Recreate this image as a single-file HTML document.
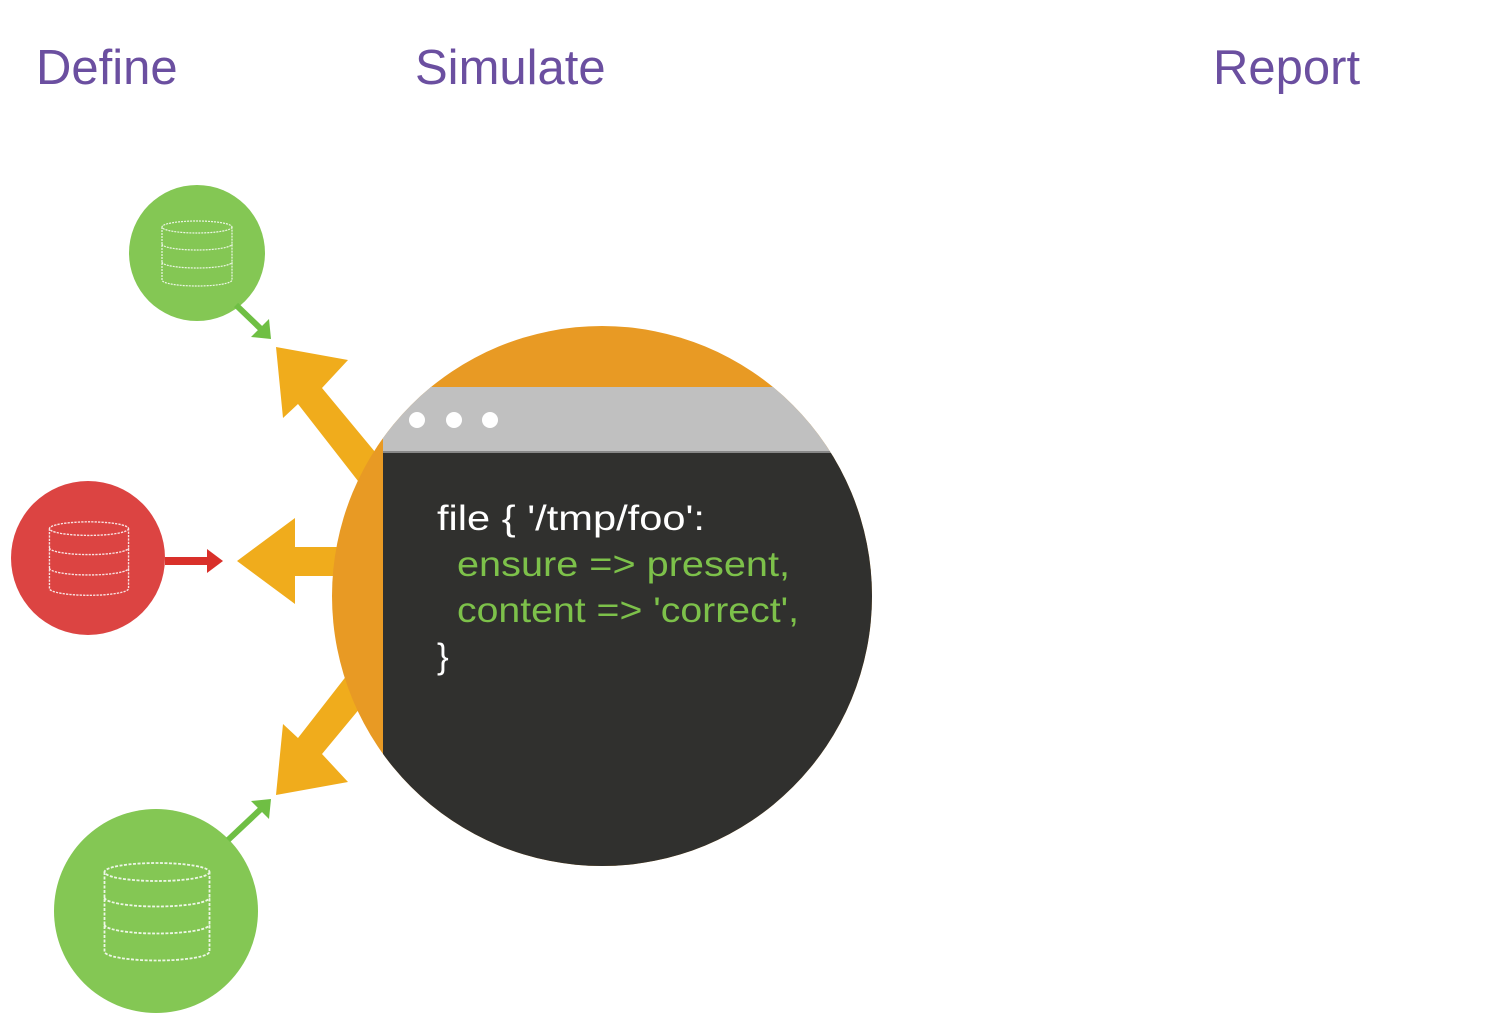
<!DOCTYPE html>
<html><head><style>
body{margin:0;background:#fff;width:1508px;height:1036px;overflow:hidden;font-family:"Liberation Sans",sans-serif}
.t{position:absolute;top:40px;font-size:49px;color:#6B4FA0}
</style></head><body>
<div class="t" style="left:36px">Define</div>
<div class="t" style="left:415px">Simulate</div>
<div class="t" style="left:1213px">Report</div>
<svg width="1508" height="1036" style="position:absolute;left:0;top:0">
<defs>
<clipPath id="c"><circle cx="602" cy="596" r="270"/></clipPath>
<g id="db" fill="none" stroke="#fff" stroke-width="1.2" stroke-dasharray="2 1" opacity="0.85">
<ellipse cx="0" cy="-26" rx="35" ry="6"/>
<path d="M-35,-26 V27 A35,6 0 0 0 35,27 V-26 M-35,-9 A35,6 0 0 0 35,-9 M-35,9 A35,6 0 0 0 35,9"/>
</g>
</defs>
<g fill="#F0AC1C">
<polygon points="276,347 348,360 322,388 390,470 365,490 298,404 283,418"/>
<polygon points="237,561 295,518 295,547 345,547 345,576 295,576 295,604"/>
<polygon points="276,795 348,782 322,754 390,672 365,652 298,738 283,724"/>
</g>
<circle cx="602" cy="596" r="270" fill="#E89A24"/>
<g clip-path="url(#c)">
<rect x="383" y="387" width="500" height="66" fill="#C0C0C0"/>
<rect x="383" y="451" width="500" height="2" fill="#888"/>
<rect x="383" y="453" width="500" height="420" fill="#30302E"/>
</g>
<circle cx="417" cy="420" r="8" fill="#fff"/>
<circle cx="454" cy="420" r="8" fill="#fff"/>
<circle cx="490" cy="420" r="8" fill="#fff"/>
<g font-family="Liberation Sans, sans-serif" font-size="35" fill="#fff">
<text x="437" y="530" textLength="268" lengthAdjust="spacingAndGlyphs">file { '/tmp/foo':</text>
<text x="457" y="576" fill="#7DC14A" textLength="333" lengthAdjust="spacingAndGlyphs">ensure  =&gt; present,</text>
<text x="457" y="622" fill="#7DC14A" textLength="342" lengthAdjust="spacingAndGlyphs">content =&gt; 'correct',</text>
<text x="437" y="668">}</text>
</g>
<circle cx="197" cy="253" r="68" fill="#84C754"/>
<use href="#db" transform="translate(197,253) scale(1)"/>
<circle cx="88" cy="558" r="77" fill="#DC4442"/>
<use href="#db" transform="translate(89,558) scale(1.13)"/>
<circle cx="156" cy="911" r="102" fill="#84C754"/>
<use href="#db" transform="translate(157,911) scale(1.5)"/>
<line x1="236" y1="305" x2="262" y2="330" stroke="#6FBF44" stroke-width="6"/>
<polygon points="271,339 251,337 269,319" fill="#6FBF44"/>
<line x1="228" y1="840" x2="262" y2="808" stroke="#6FBF44" stroke-width="6"/>
<polygon points="271,799 269,819 251,801" fill="#6FBF44"/>
<rect x="165" y="557" width="45" height="8" fill="#D9302A"/>
<polygon points="207,549 223,561 207,573" fill="#D9302A"/>
</svg>
</body></html>
